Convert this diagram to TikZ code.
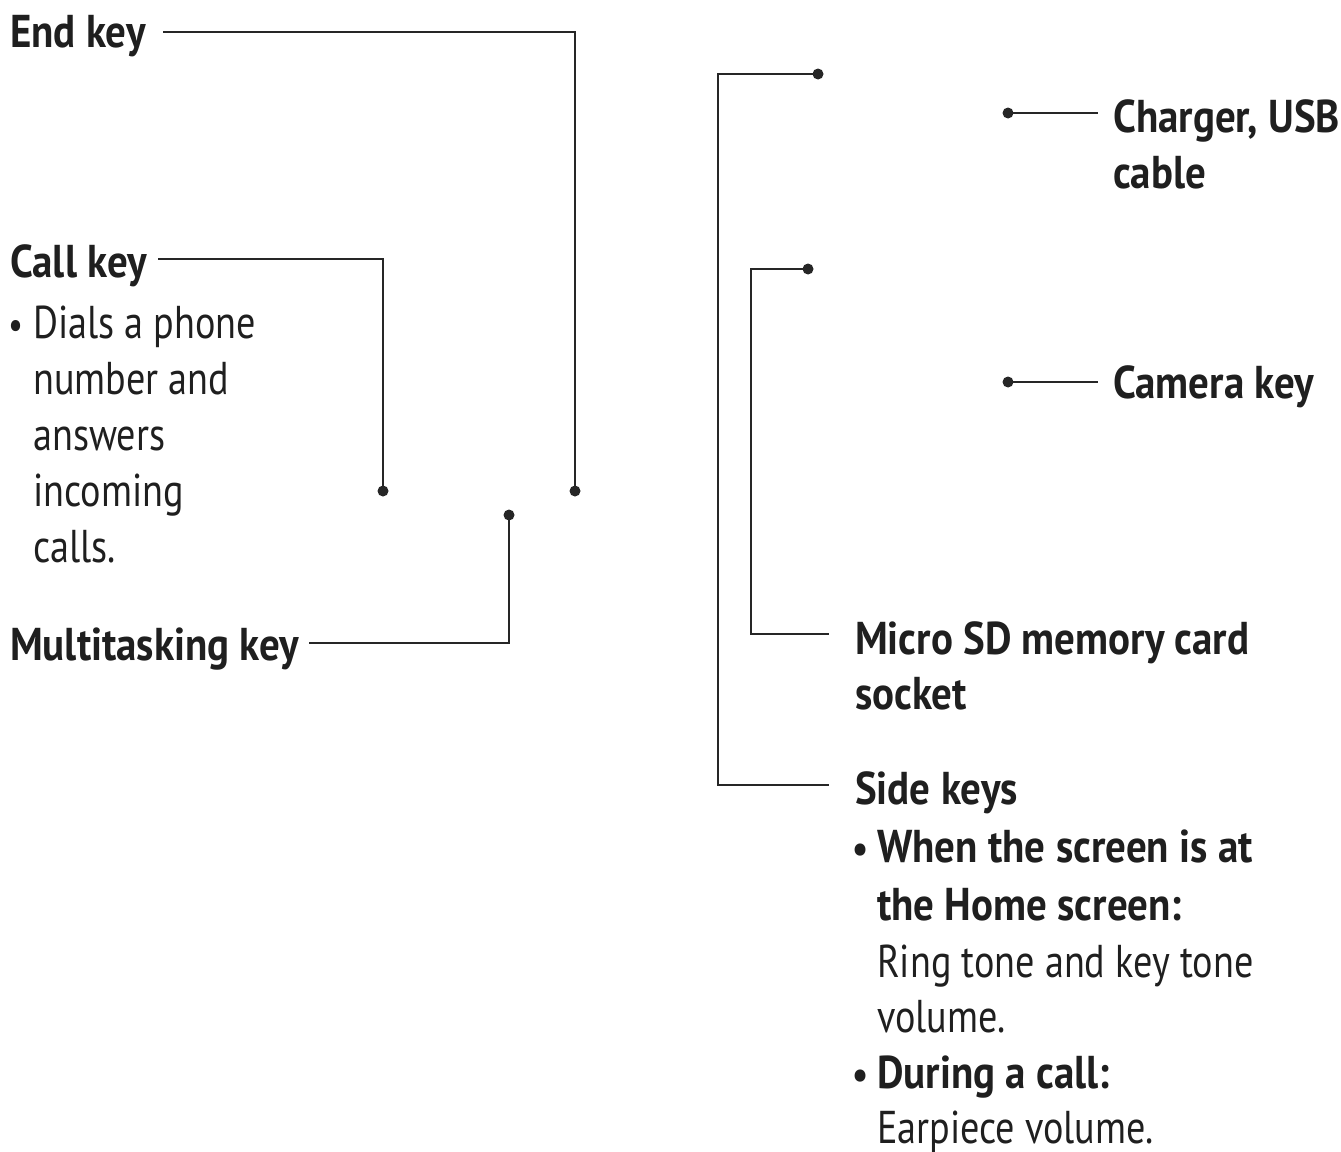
\documentclass[tikz,border=0pt]{standalone}
\usepackage{fontspec}
\setmainfont[FakeStretch=0.83]{PT Sans}
\newfontfamily\boldfam[FakeStretch=0.89]{PT Sans}
\newcommand{\smbul}{\makebox[25pt][l]{\fontsize{40}{40}\selectfont\textbullet}}
\begin{document}
\begin{tikzpicture}[x=1pt,y=-1pt,
  lbl/.style={anchor=base west,inner sep=0pt,font=\fontsize{46}{56}\boldfam\bfseries,text=black!88},
  txt/.style={anchor=base west,inner sep=0pt,font=\fontsize{46}{56}\selectfont,text=black!88},
  lead/.style={line width=2.8pt,black!85},
  pin/.style={circle,fill=black!85,inner sep=0pt,minimum size=11pt}]
\useasboundingbox (0,0) rectangle (1341,1151);
% left labels
\node[lbl] (endk) at (10,47) {End key};
\node[lbl] (callk) at (10,277) {Call key};
\node[txt] (c1) at (8,338) {\smbul Dials a phone};
\node[txt] (c2) at (33,394) {number and};
\node[txt] (c3) at (33,450) {answers};
\node[txt] (c4) at (33,506) {incoming};
\node[txt] (c5) at (33,562) {calls.};
\node[lbl] (multi) at (10,660) {Multitasking key};
% right labels
\node[lbl] (chg1) at (1113,132) {Charger, USB};
\node[lbl] (chg2) at (1113,188) {cable};
\node[lbl] (cam) at (1113,398) {Camera key};
\node[lbl] (sd1) at (855,654) {Micro SD memory card};
\node[lbl] (sd2) at (855,709) {socket};
\node[lbl] (side) at (855,804) {Side keys};
\node[lbl] (s1) at (852,862) {\smbul When the screen is at};
\node[lbl] (s2) at (877,920) {the Home screen:};
\node[txt] (s3) at (877,977) {Ring tone and key tone};
\node[txt] (s4) at (877,1032) {volume.};
\node[lbl] (s5) at (852,1088) {\smbul During a call:};
\node[txt] (s6) at (877,1143) {Earpiece volume.};
% pins
\node[pin] (pEnd) at (575,491) {};
\node[pin] (pCall) at (383,491) {};
\node[pin] (pMulti) at (509,515) {};
\node[pin] (pSide) at (818,74) {};
\node[pin] (pSD) at (808,269) {};
\node[pin] (pChg) at (1008,113) {};
\node[pin] (pCam) at (1008,382) {};
% free ends
\coordinate (eEnd) at (163,32);
\coordinate (eCall) at (158,259);
\coordinate (eMulti) at (309,643);
\coordinate (eSide) at (829,785);
\coordinate (eSD) at (829,634);
\coordinate (eChg) at (1098,113);
\coordinate (eCam) at (1098,382);
% leaders
\draw[lead] (eEnd) -| (pEnd.center);
\draw[lead] (eCall) -| (pCall.center);
\draw[lead] (eMulti) -| (pMulti.center);
\draw[lead] (pSide.center) -- (718,74) |- (eSide);
\draw[lead] (pSD.center) -- (751,269) |- (eSD);
\draw[lead] (pChg.center) -- (eChg);
\draw[lead] (pCam.center) -- (eCam);
\end{tikzpicture}
\end{document}
